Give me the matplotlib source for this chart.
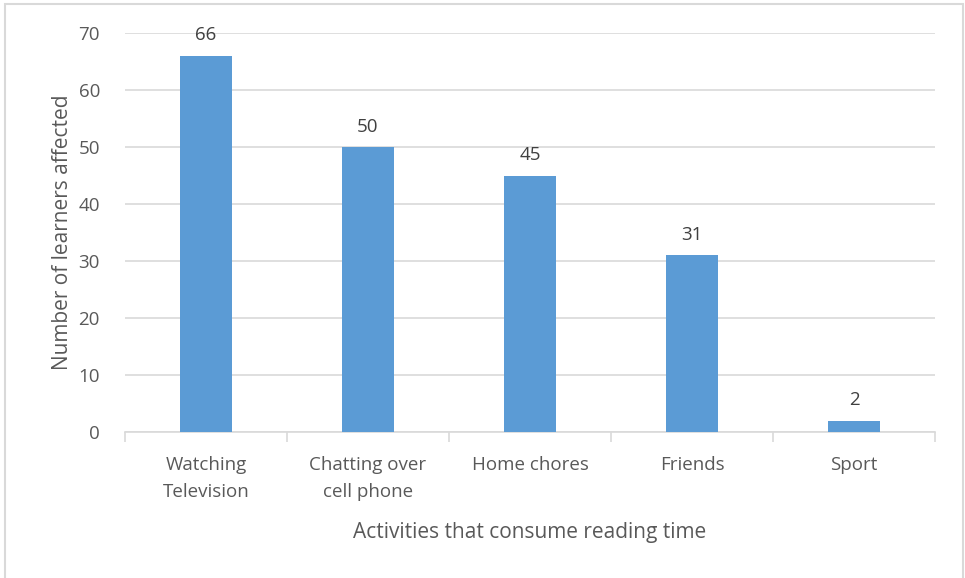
import matplotlib.pyplot as plt
from matplotlib.patches import Rectangle

# activities and number of learners affected
activities = ["Watching\nTelevision", "Chatting over\ncell phone", "Home chores",
              "Friends", "Sport"]
learners = [66, 50, 45, 31, 2]
y_ticks = [0, 10, 20, 30, 40, 50, 60, 70]

plt.rcParams['font.family'] = ['Open Sans', 'DejaVu Sans']

W, H = 965, 578
fig = plt.figure(figsize=(W / 100, H / 100), dpi=100)
ax = fig.add_axes([125 / W, (H - 432) / H, (935 - 125) / W, (432 - 33) / H])

# light frame around the whole chart
fig.patches.append(Rectangle((5 / W, -0.01), (963 - 5) / W, (H - 4) / H + 0.01,
                             transform=fig.transFigure, fill=False,
                             edgecolor='#D9D9D9', linewidth=1.5))

x = range(len(activities))
bars = ax.bar(x, learners, width=0.32, color='#5B9BD5', zorder=3)
for xi, v in zip(x, learners):
    ax.text(xi, v + 2.0, str(v), ha='center', va='bottom', fontsize=13.5,
            color='#404040')

ax.set_xlim(-0.5, len(activities) - 0.5)
ax.set_ylim(0, 70)
ax.set_yticks(y_ticks)
ax.yaxis.grid(True, color='#D9D9D9', linewidth=1.2, zorder=0)
ax.tick_params(axis='y', length=0, labelsize=13.5, labelcolor='#595959', pad=18)

# category labels between boundary ticks
ax.set_xticks(list(x))
ax.set_xticklabels(activities, fontsize=13.5, color='#595959', linespacing=1.65)
ax.tick_params(axis='x', length=0, pad=17)
ax.set_xticks([i - 0.5 for i in range(len(activities) + 1)], minor=True)
ax.tick_params(axis='x', which='minor', length=7, color='#D9D9D9', width=1.2)

for s in ['top', 'right', 'left']:
    ax.spines[s].set_visible(False)
ax.spines['bottom'].set_color('#D9D9D9')
ax.spines['bottom'].set_linewidth(1.2)

ax.set_ylabel("Number of learners affected", fontsize=15, color='#595959',
              labelpad=4)
ax.set_xlabel("Activities that consume reading time", fontsize=15,
              color='#595959', labelpad=15)

fig.savefig("out.png", dpi=100, facecolor='white')
